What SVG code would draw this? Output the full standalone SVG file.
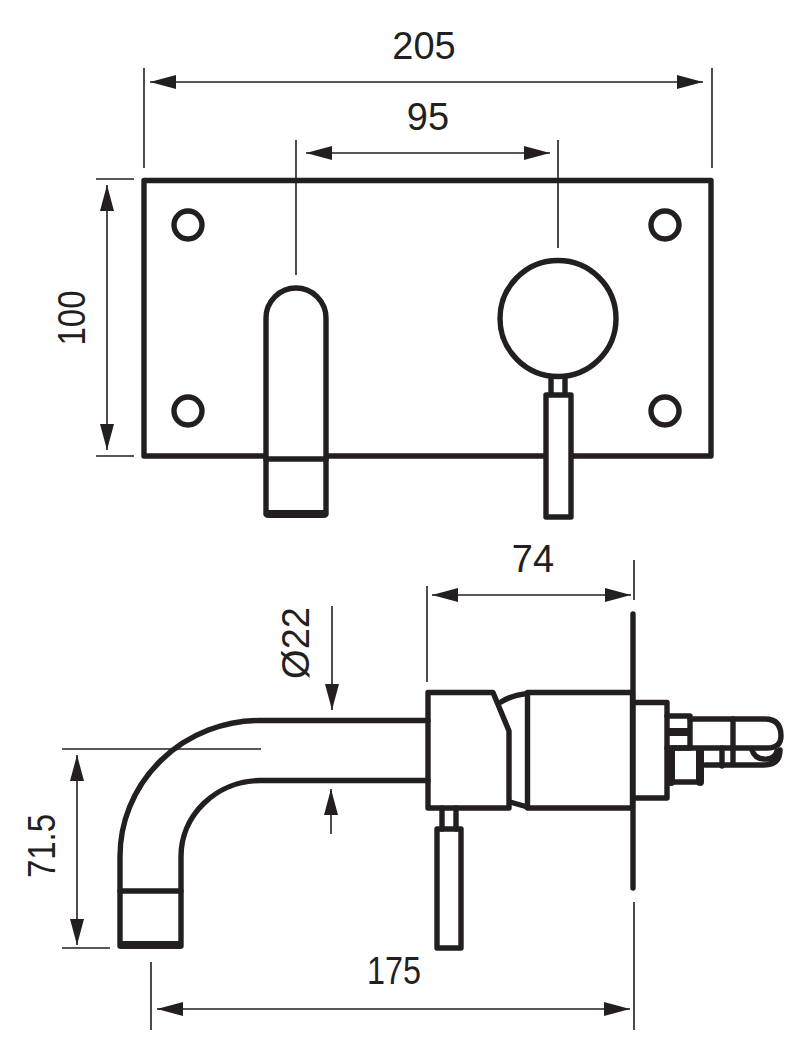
<svg xmlns="http://www.w3.org/2000/svg" width="798" height="1057" viewBox="0 0 798 1057">
<defs>
<marker id="arrow" viewBox="0 0 26 14" refX="26" refY="7" markerWidth="26" markerHeight="14" markerUnits="userSpaceOnUse" orient="auto-start-reverse"><path d="M0 0L26 7L0 14Z" fill="#231f20"/></marker>
</defs>
<style>
.o{fill:none;stroke:#231f20;stroke-width:5.400;stroke-linejoin:round;stroke-linecap:round}
.t{fill:none;stroke:#231f20;stroke-width:8;stroke-linecap:round}
.d{fill:none;stroke:#231f20;stroke-width:1.6}
.l{fill:#231f20;font-family:"Liberation Sans",Arial,sans-serif;font-size:38px;text-anchor:middle}
</style>
<rect width="798" height="1057" fill="#fff"/>
<g id="connectors">
<path class="d" d="M144 68V168M712 68V168M296 140V275M558 140V248M96 179H134M96 456H134M427 586V682M634 560V600M62 749H261M62 948H110M151 962V1030M634 902V1030"/>
<path class="d" marker-start="url(#arrow)" marker-end="url(#arrow)" d="M150 82H703"/>
<path class="d" marker-start="url(#arrow)" marker-end="url(#arrow)" d="M306 153H550"/>
<path class="d" marker-start="url(#arrow)" marker-end="url(#arrow)" d="M107 185V450"/>
<path class="d" marker-start="url(#arrow)" marker-end="url(#arrow)" d="M432 595H631"/>
<path class="d" marker-end="url(#arrow)" d="M332 606V710"/>
<path class="d" marker-end="url(#arrow)" d="M331 834V789"/>
<path class="d" marker-start="url(#arrow)" marker-end="url(#arrow)" d="M77 755V945"/>
<path class="d" marker-start="url(#arrow)" marker-end="url(#arrow)" d="M157 1009H630"/>
</g>
<g id="front-plate">
<rect class="o" x="144" y="180.500" width="567" height="275.500"/>
<circle class="o" cx="188" cy="225" r="14"/><circle class="o" cx="665" cy="225" r="14"/>
<circle class="o" cx="188" cy="411" r="14"/><circle class="o" cx="665" cy="411" r="14"/>
</g>
<g id="front-spout">
<path class="o" style="fill:#fff" d="M266 514V318A30 30 0 0 1 326 318V514Z"/>
<path class="o" d="M266 459H326"/>
<path class="t" d="M268 514H324"/>
</g>
<g id="front-handle">
<circle class="o" cx="558" cy="318.500" r="58"/>
<path class="o" d="M551 377V395M565 377V395"/>
<rect class="o" style="fill:#fff" x="546" y="395" width="25" height="122"/>
</g>
<g id="side-spout">
<path class="o" d="M428 720.500H260A140 136 0 0 0 120 857V946H181V857A80 76 0 0 1 260 780.500H428"/>
<path class="o" d="M120 891H181"/>
<path class="t" d="M122 945H179"/>
</g>
<g id="side-body">
<path class="o" d="M428 692.500H493L509 731V808H428Z"/>
<path class="o" d="M501 702Q512 695 527.500 693.500M510 802L527.500 807"/>
<rect class="o" x="527.500" y="692.500" width="105" height="115.500"/>
<path class="o" d="M633 614V888"/>
<path class="o" d="M633 702.500H667V798H633"/>
</g>
<g id="side-lever">
<path class="o" d="M442 808V829M456 808V829"/>
<path class="o" d="M437 948V829H461V948Z"/>
</g>
<g id="side-tail">
<path class="o" d="M667 716H690V748H667"/>
<path class="t" d="M670 732H688"/>
<path class="o" d="M690 719H765Q781 719 781 736Q781 748 767 748H672"/>
<path class="o" d="M733 719V764"/>
<path class="o" d="M705 765H764Q780 765 780 750M752 750Q755 760 767 759Q775 758 777 751"/>
<path class="t" d="M700 751V782"/>
<path class="o" d="M672 782H700"/>
<path class="t" d="M671 750V782"/>
<path class="o" d="M722 748V766"/>
</g>
<g id="labels">
<text class="l" x="424" y="59">205</text>
<text class="l" x="428" y="130">95</text>
<text class="l" transform="translate(85 318) rotate(-90)" textLength="55" lengthAdjust="spacingAndGlyphs">100</text>
<text class="l" x="533" y="572">74</text>
<text class="l" transform="translate(309 643) rotate(-90)">Ø22</text>
<text class="l" transform="translate(55 846) rotate(-90)" textLength="64" lengthAdjust="spacingAndGlyphs">71.5</text>
<text class="l" x="394" y="984" textLength="54" lengthAdjust="spacingAndGlyphs">175</text>
</g>
</svg>
